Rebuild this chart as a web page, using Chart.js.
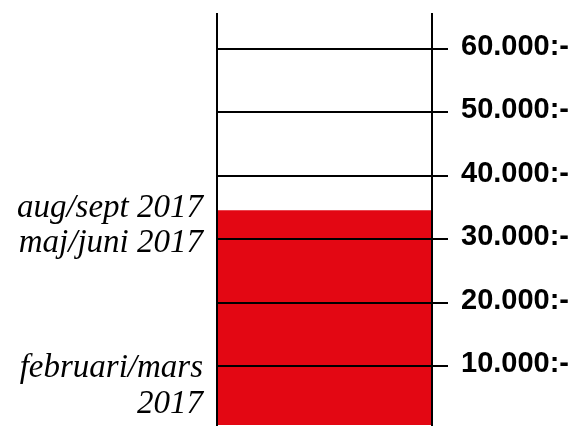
<!DOCTYPE html>
<html>
<head>
<meta charset="utf-8">
<script src="https://cdn.jsdelivr.net/npm/chart.js@4/dist/chart.umd.min.js"></script>
<style>
html,body{margin:0;padding:0;background:#fff;overflow:hidden;}
canvas{display:block;}
</style>
</head>
<body>
<canvas id="c" width="578" height="427"></canvas>
<script>
const categories = ['Insamlat'];
const raisedValues = [34500];
const tickValues = [10000, 20000, 30000, 40000, 50000, 60000];
const tickLabels = ['10.000:-', '20.000:-', '30.000:-', '40.000:-', '50.000:-', '60.000:-'];
const milestoneValues = [6800, 29400, 34800];
const milestoneLabels = [['februari/mars', '2017'], 'maj/juni 2017', 'aug/sept 2017'];

const yMin = 700, yMax = 65500;

function noPad(s, w) {
  s.width = w;
  s.paddingTop = 0;
  s.paddingBottom = 0;
}

new Chart(document.getElementById('c'), {
  type: 'bar',
  data: {
    labels: categories,
    datasets: [{
      data: raisedValues,
      backgroundColor: '#e30713',
      borderWidth: 0,
      categoryPercentage: 1,
      barPercentage: 1,
      yAxisID: 'y'
    }]
  },
  options: {
    responsive: false,
    animation: false,
    layout: { padding: { top: 14, bottom: 2, left: 0, right: 0 } },
    plugins: { legend: { display: false }, tooltip: { enabled: false } },
    scales: {
      x: { display: false },
      y: {
        position: 'right',
        min: yMin, max: yMax,
        afterBuildTicks: s => { s.ticks = tickValues.map(v => ({ value: v })); },
        afterFit: s => noPad(s, 146),
        grid: { color: '#000', lineWidth: 2, tickLength: 16, drawTicks: true, z: 1 },
        border: { display: true, color: '#000', width: 2, z: 1 },
        ticks: {
          padding: 13,
          labelOffset: -2,
          color: '#000',
          z: 1,
          font: { family: "'Liberation Sans', Arial, sans-serif", weight: 'bold', size: 29 },
          callback: (v, i) => tickLabels[i]
        }
      },
      yl: {
        position: 'left',
        min: yMin, max: yMax,
        afterBuildTicks: s => { s.ticks = milestoneValues.map(v => ({ value: v })); },
        afterFit: s => noPad(s, 217),
        grid: { display: false, drawTicks: false },
        border: { display: true, color: '#000', width: 2, z: 1 },
        ticks: {
          padding: 14,
          color: '#000',
          font: { family: "'Liberation Serif', 'Times New Roman', serif", style: 'italic', size: 33, lineHeight: 1.1 },
          callback: (v, i) => milestoneLabels[i]
        }
      }
    }
  }
});
</script>
</body>
</html>
